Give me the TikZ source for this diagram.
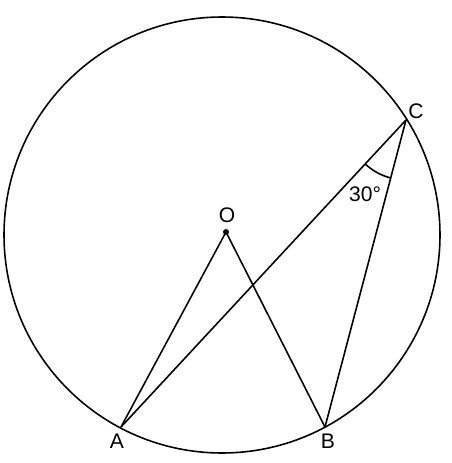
\documentclass[tikz,border=0pt]{standalone}
\usepackage{fontspec}
\setmainfont{Liberation Sans}
\usetikzlibrary{angles}

\begin{document}
\begin{tikzpicture}[x=0.02cm, y=-0.02cm, line width=0.9pt,
    lbl/.style={font=\fontsize{12}{14}\selectfont, inner sep=0pt}]
            \useasboundingbox (0, 0) rectangle (452, 463);
            % Circle
            \draw (222, 235) circle [radius=218];
            % Points
            \coordinate (O) at (226, 232);
            \coordinate (A) at (121, 427);
            \coordinate (B) at (325, 427);
            \coordinate (C) at (406, 120);
            \fill (O) circle [radius=3];
            % Chords and radii
            \draw (O) -- (A);
            \draw (O) -- (B);
            \draw (A) -- (C);
            \draw (B) -- (C);
            % Inscribed angle
            \pic[draw, angle radius=1.2cm, line width=0.9pt] {angle = A--C--B};
            \node[lbl] (angC) at (365, 194) {30°};
            % Labels
            \node[lbl] (labO) at (227, 215) {O};
            \node[lbl] (labA) at (117, 441) {A};
            \node[lbl] (labB) at (328, 441) {B};
            \node[lbl] (labC) at (416, 111) {C};
        \end{tikzpicture}
\end{document}
